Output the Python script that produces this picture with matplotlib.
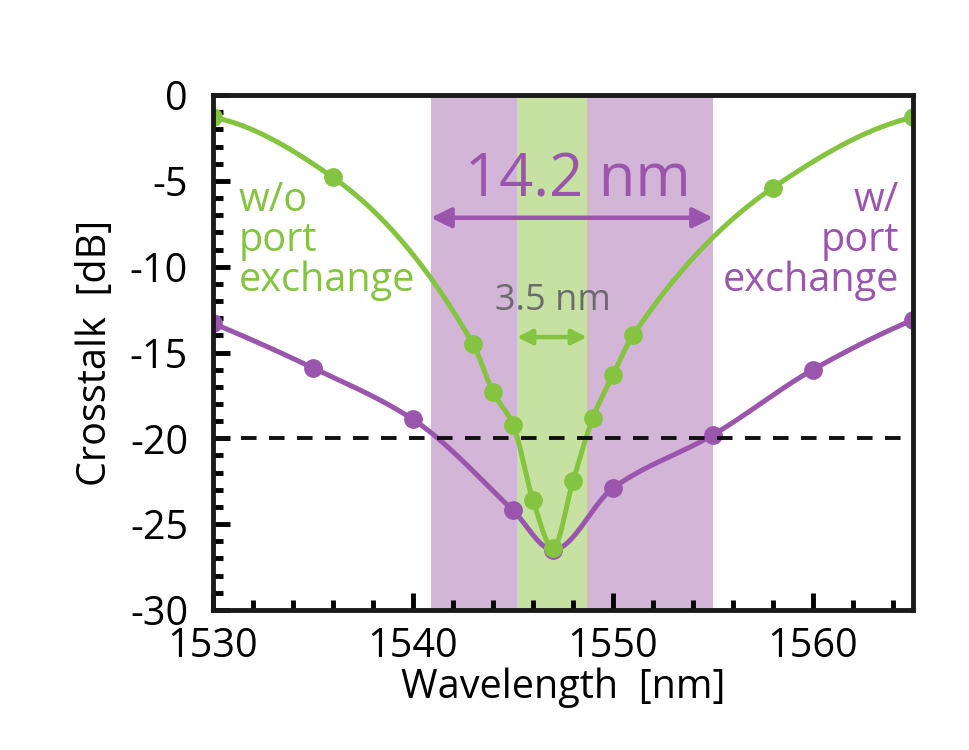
import numpy as np
import matplotlib.pyplot as plt
from matplotlib.ticker import MultipleLocator
from matplotlib.transforms import ScaledTranslation

plt.rcParams['font.family'] = ['Open Sans', 'DejaVu Sans']
plt.rcParams['axes.unicode_minus'] = False

# 数据
wl_green = [1530, 1536, 1543, 1544, 1545, 1546, 1547, 1548, 1549, 1550, 1551, 1558, 1565]
xt_green = [-1.3, -4.8, -14.5, -17.3, -19.2, -23.6, -26.4, -22.5, -18.8, -16.3, -14.0, -5.4, -1.3]

wl_purple = [1530, 1535, 1540, 1545, 1547, 1550, 1555, 1560, 1565]
xt_purple = [-13.3, -15.9, -18.9, -24.2, -26.5, -22.9, -19.8, -16.0, -13.1]

band_wide = (1540.9, 1555.0)
band_narrow = (1545.2, 1548.7)
threshold = -20

GREEN = '#84c441'
PURPLE = '#9a55ad'


def pchip(x, y, xs):
    # 单调三次插值，只用于画平滑曲线
    x = np.asarray(x, float)
    y = np.asarray(y, float)
    h = np.diff(x)
    d = np.diff(y) / h
    n = len(x)
    m = np.zeros(n)
    for k in range(1, n - 1):
        if d[k - 1] * d[k] > 0:
            w1 = 2 * h[k] + h[k - 1]
            w2 = h[k] + 2 * h[k - 1]
            m[k] = (w1 + w2) / (w1 / d[k - 1] + w2 / d[k])
    m[0] = ((2 * h[0] + h[1]) * d[0] - h[0] * d[1]) / (h[0] + h[1])
    if np.sign(m[0]) != np.sign(d[0]):
        m[0] = 0
    m[-1] = ((2 * h[-1] + h[-2]) * d[-1] - h[-1] * d[-2]) / (h[-1] + h[-2])
    if np.sign(m[-1]) != np.sign(d[-1]):
        m[-1] = 0
    idx = np.clip(np.searchsorted(x, xs) - 1, 0, n - 2)
    t = (xs - x[idx]) / h[idx]
    h00 = 2 * t**3 - 3 * t**2 + 1
    h10 = t**3 - 2 * t**2 + t
    h01 = -2 * t**3 + 3 * t**2
    h11 = t**3 - t**2
    return h00 * y[idx] + h10 * h[idx] * m[idx] + h01 * y[idx + 1] + h11 * h[idx] * m[idx + 1]


fig = plt.figure(figsize=(9.7, 7.5), dpi=100)
ax = fig.add_axes([0.2196, 0.1867, 0.7216, 0.6866])

ax.axvspan(*band_wide, color='#d3b5d8', lw=0, zorder=0)
ax.axvspan(*band_narrow, color='#c7e1a2', lw=0, zorder=0)

xs = np.linspace(1530, 1565, 1000)
ax.plot(xs, pchip(wl_purple, xt_purple, xs), color=PURPLE, lw=3.6, zorder=2)
ax.plot(wl_purple, xt_purple, 'o', color=PURPLE, ms=12.5, zorder=3)
ax.plot(xs, pchip(wl_green, xt_green, xs), color=GREEN, lw=3.6, zorder=2)
ax.plot(wl_green, xt_green, 'o', color=GREEN, ms=12.5, zorder=3)

ax.axhline(threshold, color='#111111', lw=2.8, ls=(0, (4, 3.2)), zorder=4)

# 箭头和标注
ax.annotate('', xy=(band_wide[0], -7.15), xytext=(band_wide[1], -7.15),
            arrowprops=dict(arrowstyle='<|-|>', color=PURPLE, lw=3.2,
                            mutation_scale=30, shrinkA=0, shrinkB=0), zorder=5)
ax.text(1548.25, -5.0, '14.2 nm', color=PURPLE, fontsize=43, ha='center', va='center', zorder=5)

ax.annotate('', xy=(band_narrow[0], -14.1), xytext=(band_narrow[1], -14.1),
            arrowprops=dict(arrowstyle='<|-|>', color=GREEN, lw=3.2,
                            mutation_scale=22, shrinkA=0, shrinkB=0), zorder=5)
ax.text(1547.0, -12.0, '3.5 nm', color='#6b6b6b', fontsize=26, ha='center', va='center', zorder=5)

ax.text(1531.3, -5.0, 'w/o\nport\nexchange', color=GREEN, fontsize=28.5,
        ha='left', va='top', linespacing=0.98, zorder=5)
ax.text(1564.3, -5.0, 'w/\nport\nexchange', color=PURPLE, fontsize=28.5,
        ha='right', va='top', multialignment='right', linespacing=0.98, zorder=5)

ax.set_xlim(1530, 1565)
ax.set_ylim(-30, 0)
ax.xaxis.set_major_locator(MultipleLocator(10))
ax.xaxis.set_minor_locator(MultipleLocator(2))
ax.yaxis.set_major_locator(MultipleLocator(5))
ax.yaxis.set_minor_locator(MultipleLocator(1))
ax.tick_params(which='both', direction='in', width=3.5, labelsize=28.5, top=False, right=False)
ax.tick_params(which='major', length=12)
ax.tick_params(which='minor', length=7)
ax.tick_params(axis='x', pad=12)
ax.tick_params(axis='y', pad=18)
for s in ax.spines.values():
    s.set_linewidth(3.5)
    s.set_color('#1a1a1a')
    s.set_zorder(6)

ax.set_xlabel('Wavelength  [nm]', fontsize=28.5, labelpad=0)
ax.set_ylabel('Crosstalk  [dB]', fontsize=28.5, labelpad=10)

# 1530 稍微右移，避开 -30
fig.canvas.draw()
lab0 = ax.get_xticklabels()[0]
lab0.set_transform(lab0.get_transform() + ScaledTranslation(8 / 72, 0, fig.dpi_scale_trans))

fig.savefig('out.png', dpi=100)
